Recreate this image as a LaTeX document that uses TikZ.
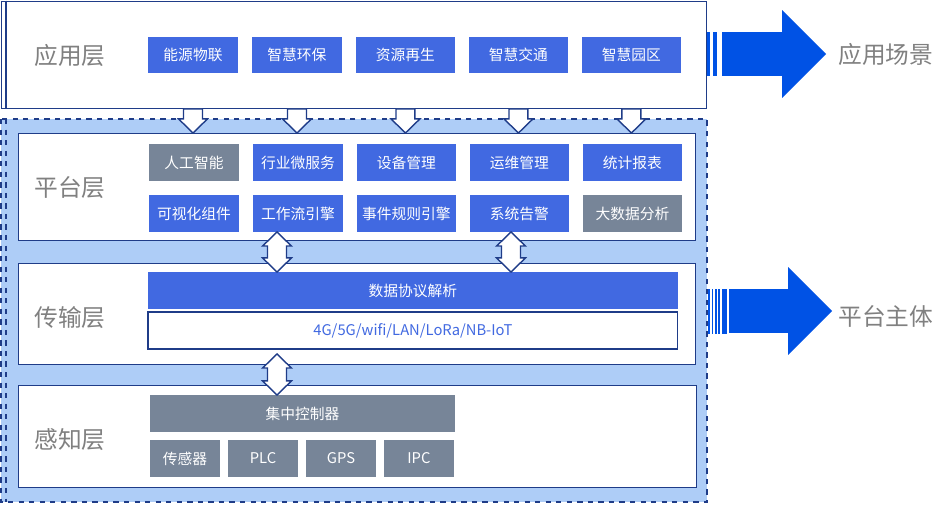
\documentclass[tikz,border=0pt]{standalone}
\usepackage{fontspec}
\setmainfont{Noto Sans CJK SC}
\usepackage{tikz}
\usetikzlibrary{positioning,calc}
\usepackage{xcolor}

\definecolor{itemblue}{HTML}{4169E1}
\definecolor{itemgray}{HTML}{778598}
\definecolor{zoneblue}{HTML}{AECDF7}
\definecolor{edgenavy}{HTML}{1F3C88}
\definecolor{bigblue}{HTML}{0052E5}
\definecolor{labelgray}{HTML}{808080}

% white block arrows between layers
\newcommand\dnblock[2]{%
  \draw[blockarr] let \p1=#1, \p2=#2 in
    (\x1-5.4pt,\y1) -- (\x1+5.4pt,\y1) -- (\x1+5.4pt,\y2+8pt) -- (\x1+8.2pt,\y2+8pt)
    -- (\x1,\y2) -- (\x1-8.2pt,\y2+8pt) -- (\x1-5.4pt,\y2+8pt) -- cycle;}
\newcommand\bothblock[2]{%
  \draw[blockarr] let \p1=#1, \p2=#2 in
    (\x1,\y1) -- (\x1+8.2pt,\y1-8pt) -- (\x1+5.4pt,\y1-8pt) -- (\x1+5.4pt,\y2+8pt)
    -- (\x1+8.2pt,\y2+8pt) -- (\x1,\y2) -- (\x1-8.2pt,\y2+8pt) -- (\x1-5.4pt,\y2+8pt)
    -- (\x1-5.4pt,\y1-8pt) -- (\x1-8.2pt,\y1-8pt) -- cycle;}
% big blue arrows on the right
\newcommand\bigarrow[2]{%
  \fill[bigblue] let \p1=#1, \p2=#2 in
    (\x1,\y2+12.5pt) -- (\x2-25pt,\y2+12.5pt) -- (\x2-25pt,\y2+25pt) -- (\x2,\y2)
    -- (\x2-25pt,\y2-25pt) -- (\x2-25pt,\y2-12.5pt) -- (\x1,\y2-12.5pt) -- cycle;}

\begin{document}
\begin{tikzpicture}[
    x=0.02cm, y=-0.02cm,
    item/.style={fill=itemblue, text=white, minimum height=0.74cm, inner sep=0pt, outer sep=0pt,
      font=\fontsize{8.4}{10}\selectfont},
    narrow/.style={item, minimum width=1.8cm},
    wide/.style={item, minimum width=1.98cm},
    grayed/.style={fill=itemgray},
    layer/.style={draw=edgenavy, fill=white, line width=0.8pt, inner sep=0pt, anchor=north west},
    layername/.style={text=labelgray, inner sep=0pt, font=\fontsize{13.5}{16}\selectfont},
    blockarr/.style={draw=edgenavy, fill=white, line width=0.8pt, line join=miter},
    node distance=0.28cm
]
\useasboundingbox (0,0) rectangle (950,504);

\fill[zoneblue] (1,119) rectangle (707,502);
\draw[edgenavy, dashed, line width=0.6pt] (1,119) rectangle (707,502) (6,119) -- (6,502);

\node[layer, minimum width=14.1cm, minimum height=2.14cm] (app) at (1,0.6) {};
\draw[edgenavy, line width=0.6pt] (6,0.6) -- (6,107.6);
\node[layer, minimum width=13.54cm, minimum height=2.14cm] (plat) at (18,133) {};
\node[layer, minimum width=13.54cm, minimum height=2.02cm] (trans) at (18,263) {};
\node[layer, minimum width=13.56cm, minimum height=2.04cm] (sense) at (18,385) {};

\node[layername] (appname) at (70,55) {应用层};
\node[layername] (platname) at (70,188) {平台层};
\node[layername] (transname) at (70,318) {传输层};
\node[layername] (sensename) at (70,440) {感知层};

\node[narrow] (a1) at (193,55) {能源物联};
\node[narrow, right=of a1] (a2) {智慧环保};
\node[wide, right=of a2] (a3) {资源再生};
\node[wide, right=of a3] (a4) {智慧交通};
\node[wide, right=of a4] (a5) {智慧园区};

\node[narrow, grayed] (p1) at (194,162.5) {人工智能};
\node[narrow, right=of p1] (p2) {行业微服务};
\node[wide, right=of p2] (p3) {设备管理};
\node[wide, right=of p3] (p4) {运维管理};
\node[wide, right=of p4] (p5) {统计报表};
\node[narrow, below=of p1] (q1) {可视化组件};
\node[narrow, right=of q1] (q2) {工作流引擎};
\node[wide, right=of q2] (q3) {事件规则引擎};
\node[wide, right=of q3] (q4) {系统告警};
\node[wide, grayed, right=of q4] (q5) {大数据分析};

\node[item, minimum width=10.6cm, anchor=north west] (parse) at (148,272) {数据协议解析};
\node[item, fill=white, draw=edgenavy, line width=0.6pt, text=itemblue, minimum width=10.6cm,
  below=0.06cm of parse] (net) {4G/5G/wifi/LAN/LoRa/NB-IoT};

\node[item, grayed, minimum width=6.1cm, anchor=north west] (hub) at (150,395) {集中控制器};
\node[item, grayed, minimum width=1.4cm, anchor=north west] (s1) at (150,440) {传感器};
\node[item, grayed, minimum width=1.4cm, right=0.16cm of s1] (s2) {PLC};
\node[item, grayed, minimum width=1.4cm, right=0.16cm of s2] (s3) {GPS};
\node[item, grayed, minimum width=1.4cm, right=0.16cm of s3] (s4) {IPC};

\foreach \i in {1,...,5}
  \dnblock{(a\i.south |- app.south)}{(a\i.south |- plat.north)};
\coordinate (c1) at (277,0);
\coordinate (c2) at (511,0);
\bothblock{(c1 |- q2.south)}{(c1 |- parse.north)}
\bothblock{(c2 |- q4.south)}{(c2 |- parse.north)}
\bothblock{($(c1 |- net.south)+(0,5)$)}{(c1 |- hub.north)}

\node[layername, anchor=west] (scene) at (838,54) {应用场景};
\node[layername, anchor=west] (body) at (838,316) {平台主体};
\foreach \a/\b in {707/710, 713/717}
  \fill[bigblue] (\a,32) rectangle (\b,76);
\bigarrow{(722,0)}{($(scene.west)+(-12,0)$)}
\foreach \a/\b in {708/710, 711.5/713, 714.5/716.5, 718/720, 721.5/727}
  \fill[bigblue] (\a,288.5) rectangle (\b,333.5);
\bigarrow{(729,0)}{($(body.west)+(-6,-5)$)}
\end{tikzpicture}
\end{document}
